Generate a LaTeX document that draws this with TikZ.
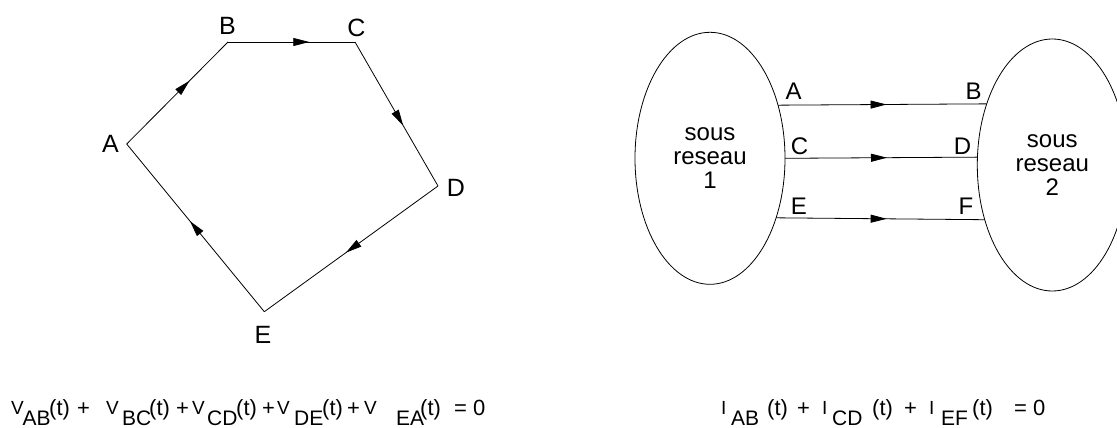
\documentclass[tikz,border=0pt]{standalone}
\usepackage{fontspec}
\setmainfont{Liberation Sans}
\usetikzlibrary{arrows.meta,decorations.markings,shapes.geometric}
\begin{document}
\begin{tikzpicture}[x=1pt,y=-1pt,
  wire/.style={line width=0.8pt},
  midarrow/.style={postaction={decorate},decoration={markings,
    mark=at position #1 with {\arrow{Triangle[length=16pt,width=8pt]}}}},
  lbl/.style={font=\fontsize{25}{25}\selectfont, inner sep=0pt},
  rlbl/.style={font=\fontsize{24}{24}\selectfont, inner sep=0pt},
  net/.style={draw, ellipse, line width=0.8pt, minimum width=150pt, minimum height=252pt,
    inner sep=0pt, outer sep=0pt, align=center, font=\fontsize{24}{24}\selectfont},
  eqpar/.style={font=\fontsize{22}{22}\selectfont, inner sep=0pt, anchor=base west},
  eqsub/.style={font=\fontsize{21}{21}\selectfont, inner sep=0pt, anchor=base west},
  eqsmall/.style={font=\fontsize{19}{19}\selectfont, inner sep=0pt, anchor=base west}]
\useasboundingbox (0,0) rectangle (1117,428);
% polygon
\coordinate (A) at (126.7,144);
\coordinate (B) at (228,42);
\coordinate (C) at (355,42);
\coordinate (D) at (438,186);
\coordinate (E) at (264.3,311.7);
\draw[wire, midarrow=0.62] (A) -- (B);
\draw[wire, midarrow=0.64] (B) -- (C);
\draw[wire, midarrow=0.58] (C) -- (D);
\draw[wire, midarrow=0.53] (D) -- (E);
\draw[wire, midarrow=0.54] (E) -- (A);
\node[lbl] (lA) at (110.5,144) {A};
\node[lbl] (lB) at (227.5,26) {B};
\node[lbl] (lC) at (356.5,28.3) {C};
\node[lbl] (lD) at (456,188) {D};
\node[lbl] (lE) at (263,335) {E};
% networks
\node[net] (sub1) at (710,158.3) {sous\\reseau\\1};
\node[net] (sub2) at (1052.3,165) {sous\\reseau\\2};
\draw[wire, midarrow=0.52] (sub1.38.54) -- (sub2.137.27);
\draw[wire, midarrow=0.53] (sub1.0) -- (sub2.174.89);
\draw[wire, midarrow=0.53] (sub1.-42.32) -- (sub2.-141.91);
\node[rlbl] (rA) at (793.7,91.7) {A};
\node[rlbl] (rB) at (973.7,91.7) {B};
\node[rlbl] (rC) at (799.5,146) {C};
\node[rlbl] (rD) at (962.5,146) {D};
\node[rlbl] (rE) at (798.8,206) {E};
\node[rlbl] (rF) at (966,206) {F};
% left equation
\foreach \x [count=\i] in {11,106,192,277,364}
  \node[eqsmall] (lv\i) at (\x,414) {V};
\foreach \x/\t [count=\i] in {22.5/AB,122/BC,207/CD,294/DE,396/EA}
  \node[eqsub] (ls\i) at (\x,425.5) {\t};
\foreach \x [count=\i] in {49,149,236,322,420}
  \node[eqpar] (lt\i) at (\x,415) {(t)};
\foreach \x [count=\i] in {77,176,262,347}
  \node[eqpar] (lp\i) at (\x,415) {+};
\node[eqpar] (leq) at (454,415) {= 0};
% right equation
\foreach \x [count=\i] in {721,822,929}
  \node[eqsmall] (ri\i) at (\x,414) {I};
\foreach \x/\t [count=\i] in {731/AB,832/CD,941/EF}
  \node[eqsub] (rs\i) at (\x,425.5) {\t};
\foreach \x [count=\i] in {767,872,972}
  \node[eqpar] (rt\i) at (\x,415) {(t)};
\foreach \x [count=\i] in {797,904}
  \node[eqpar] (rp\i) at (\x,415) {+};
\node[eqpar] (req) at (1014,415) {= 0};
\end{tikzpicture}
\end{document}
